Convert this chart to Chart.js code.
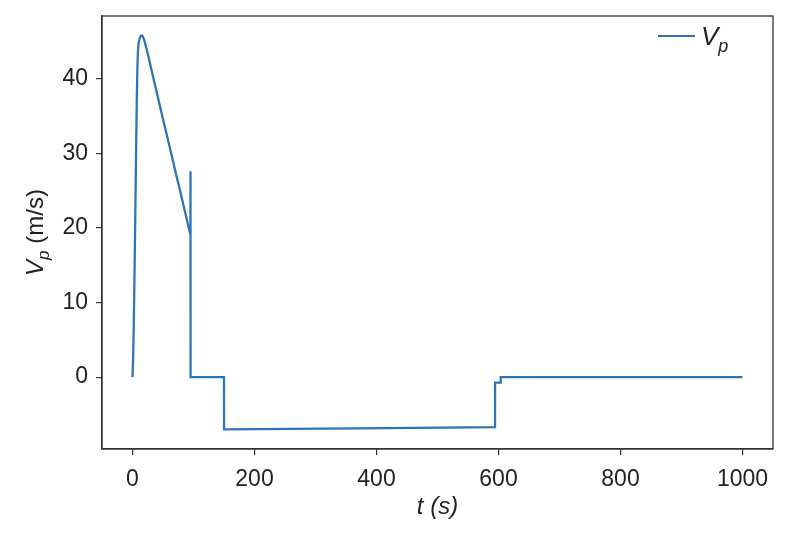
<!DOCTYPE html>
<html>
<head>
<meta charset="utf-8">
<script src="https://cdn.jsdelivr.net/npm/chart.js@4"></script>
<style>
html,body{margin:0;padding:0;background:#fff;}
#wrap{width:800px;height:535px;}
</style>
</head>
<body>
<div id="wrap"><canvas id="c" width="800" height="535"></canvas></div>
<script>
// Data
const tValues  = [0, 1, 2, 3, 4, 5, 6, 7, 8, 9, 10, 12, 14, 16, 18, 20, 25, 30, 40, 50, 60, 70, 80, 90, 95, 95.1, 95.2, 150, 150.1, 594.3, 594.4, 603.6, 603.7, 1000];
const vpValues = [0, 2.5, 6.5, 12, 18, 24.5, 31, 37, 41.5, 43.8, 44.8, 45.5, 45.8, 45.8, 45.5, 45.0, 43.4, 41.6, 38.1, 34.6, 31.2, 27.7, 24.3, 20.8, 19.1, 27.6, 0, 0, -7.0, -6.72, -0.75, -0.75, 0, 0];
const xTicks = [0, 200, 400, 600, 800, 1000];
const yTicks = [0, 10, 20, 30, 40];
const seriesLabel = 'Vp';

const FONT = '"Liberation Sans", Arial, Helvetica, sans-serif';
const points = tValues.map((t, i) => ({x: t, y: vpValues[i]}));

const decor = {
  id: 'decor',
  afterDraw(chart) {
    const ctx = chart.ctx;
    const a = chart.chartArea;
    ctx.save();
    ctx.strokeStyle = '#333';
    ctx.lineWidth = 1.3;
    ctx.strokeRect(a.left, a.top, a.right - a.left, a.bottom - a.top);
    ctx.fillStyle = '#222';
    ctx.textBaseline = 'alphabetic';
    ctx.textAlign = 'center';
    ctx.font = 'italic 24px ' + FONT;
    ctx.fillText('t (s)', (a.left + a.right) / 2, 514);
    ctx.save();
    ctx.translate(43, (a.top + a.bottom) / 2);
    ctx.rotate(-Math.PI / 2);
    const f1 = 'italic 24px ' + FONT, f2 = 'italic 17px ' + FONT, f3 = '24px ' + FONT;
    ctx.font = f1; const wV = ctx.measureText('V').width;
    ctx.font = f2; const wp = ctx.measureText('p').width;
    ctx.font = f3; const wr = ctx.measureText(' (m/s)').width;
    let x0 = -(wV + wp + wr) / 2;
    ctx.textAlign = 'left';
    ctx.font = f1; ctx.fillText('V', x0, 0); x0 += wV;
    ctx.font = f2; ctx.fillText('p', x0, 6); x0 += wp;
    ctx.font = f3; ctx.fillText(' (m/s)', x0, 0);
    ctx.restore();
    const ds = chart.data.datasets[0];
    ctx.strokeStyle = ds.borderColor;
    ctx.lineWidth = 2.2;
    ctx.beginPath();
    ctx.moveTo(658, 36); ctx.lineTo(695, 36);
    ctx.stroke();
    ctx.fillStyle = '#222';
    ctx.textAlign = 'left';
    ctx.font = 'italic 26px ' + FONT;
    ctx.fillText(seriesLabel[0], 701, 45);
    const wL = ctx.measureText(seriesLabel[0]).width;
    ctx.font = 'italic 18px ' + FONT;
    ctx.fillText(seriesLabel.slice(1), 701 + wL, 52);
    ctx.restore();
  }
};

new Chart(document.getElementById('c'), {
  type: 'line',
  data: {
    datasets: [{
      label: seriesLabel,
      data: points,
      borderColor: '#2f75b5',
      borderWidth: 2.3,
      pointRadius: 0,
      tension: 0.0001,
      fill: false
    }]
  },
  options: {
    responsive: false,
    animation: false,
    layout: {padding: {top: 16, right: 27, left: 0, bottom: 0}},
    plugins: {legend: {display: false}, tooltip: {enabled: false}},
    scales: {
      x: {
        type: 'linear',
        min: -50, max: 1050,
        afterBuildTicks(s) { s.ticks = xTicks.map(v => ({value: v})); },
        afterFit(s) { s.height = 86; s.paddingLeft = 0; s.paddingRight = 0; },
        grid: {drawOnChartArea: false, drawTicks: true, tickLength: 6, color: '#333', lineWidth: 1.2},
        border: {display: true, color: '#333', width: 1.3},
        ticks: {font: {family: FONT, size: 23}, color: '#222', padding: 11, maxRotation: 0,
                callback: v => String(v)}
      },
      y: {
        type: 'linear',
        min: -9.64, max: 48.44,
        afterBuildTicks(s) { s.ticks = yTicks.map(v => ({value: v})); },
        afterFit(s) { s.width = 102; s.paddingTop = 0; s.paddingBottom = 0; },
        grid: {drawOnChartArea: false, drawTicks: true, tickLength: 6, color: '#333', lineWidth: 1.2},
        border: {display: true, color: '#333', width: 1.3},
        ticks: {font: {family: FONT, size: 23}, color: '#222', padding: 8,
                callback: v => String(v)}
      }
    }
  },
  plugins: [decor]
});
</script>
</body>
</html>
